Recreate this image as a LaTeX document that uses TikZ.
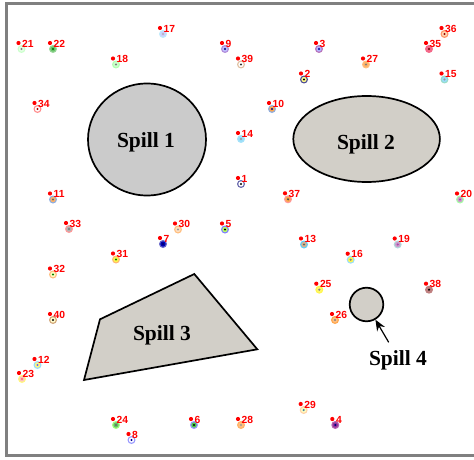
\documentclass[tikz,border=0pt]{standalone}
\usepackage{fontspec}
\setmainfont{Liberation Serif}
\newfontfamily\numfont{Liberation Sans}
\usetikzlibrary{arrows.meta, positioning, shapes.geometric}
\definecolor{spillgrey}{HTML}{CBCBCB}
\definecolor{spillsand}{HTML}{D2CFC8}
\tikzset{
  spill/.style={draw=black, line width=1.7pt, fill=spillsand, inner sep=0pt},
  spilltext/.style={inner sep=0pt, font=\fontsize{21.5}{25}\selectfont\bfseries},
  dot/.style={circle, fill=red, inner sep=0pt, minimum size=4.2pt},
  numtext/.style={text=red, inner sep=0pt, font=\fontsize{10.3}{12}\numfont\bfseries},
  halo/.style={circle, inner sep=0pt, minimum size=8pt},
  ring/.style={circle, inner sep=0pt, minimum size=5.4pt},
  core/.style={circle, inner sep=0pt, minimum size=2.4pt}
}

\begin{document}
\begin{tikzpicture}[x=1pt,y=-1pt]
  \useasboundingbox (0,0) rectangle (474,460);
  \draw [line width=3.4pt, color=black!50] (474,3.7) -- (6.3,3.7) -- (6.3,455.5) -- (474,455.5);

  \node [spill, ellipse, fill=spillgrey, minimum width=118pt, minimum height=112pt] (spill1) at (147,139.5) {};
  \node [spill, ellipse, minimum width=146.6pt, minimum height=86pt] (spill2) at (366.6,139) {};
  \node [spill, circle, minimum size=33.6pt] (spill4) at (366.5,304.5) {};

  \node [spilltext] (text1) at (146,142.5) {Spill 1};
  \node [spilltext] (text2) at (366,144) {Spill 2};

  \coordinate (corner1) at (194.3,274);
  \coordinate (corner2) at (257.3,349.3);
  \coordinate (corner3) at (84,380);
  \coordinate (corner4) at (100,319.3);
  \draw [spill, line join=miter] (corner1) -- (corner2) -- (corner3) -- (corner4) -- cycle;
  \node [spilltext] (text3) at (162,335.5) {Spill 3};

  \node [spilltext] (text4) at (398,360.5) {Spill 4};
  \coordinate (tail4) at (388.7,342.3);
  \draw [-{Stealth[length=11pt,width=9pt]}, line width=1.2pt] (tail4) -- (spill4);

  \foreach \id/\x/\y/\a/\b/\c in {
    1/238/178/blue!45!black!60/white/black,
    2/301/73.5/blue!40!black!70/yellow!45/black,
    3/316/43/violet!55/blue!30/blue!60!black,
    4/332.3/419/violet!60/violet!80/blue!50!black,
    5/222/223.5/blue!50/green!45!yellow!60/black,
    6/191/419/blue!40/green!70!black!70/black,
    7/160/238/blue!65!black!60/blue!70!black/blue!40!black,
    8/128.5/434/blue!40/white/blue!60!black,
    9/222/43/blue!35!violet!45/blue!25/blue!50!black,
    10/269/103/cyan!50!blue!45/orange!70/blue!50!black,
    11/50/193.5/cyan!50!blue!45/orange!60/black!60,
    12/34.5/359/cyan!40/yellow!50/blue!60,
    13/301/238.5/cyan!60/brown!60/black!60,
    14/238/133/cyan!35/cyan!40/black!40,
    15/441.5/73.5/cyan!45!green!40/cyan!40/black!40,
    16/347.7/253.7/cyan!40/yellow!70/black!50,
    17/160/28/cyan!25/blue!20/black!30,
    18/113/58.5/green!30/green!20/black!50,
    19/394.7/238.5/teal!30/violet!40/violet!70,
    20/457/193.5/green!35/violet!40/violet!70,
    21/18.5/43/green!20/green!10/black!50,
    22/50/43/green!60!black!40/green!60!black!60/green!40!black,
    23/19/373/yellow!50/pink/red!60,
    24/113/419/green!70!yellow!50/green!60!black!60/black!60,
    25/316.3/283.7/yellow!70/yellow!60/black!50,
    26/332/314/orange!70/orange!50/black!50,
    27/363/58.5/orange!50/orange!60/black!50,
    28/238/419/orange!60/orange!50/black!40,
    29/300.7/404/orange!35/yellow!25/cyan!60!black,
    30/175/223.5/orange!50/orange!25/black!40,
    31/113/253.5/orange!55/yellow!70/green!50!black,
    32/50/268.5/orange!50/yellow!25/green!50!black,
    33/66/223/red!40/black!30/black!55,
    34/34.5/103/red!45/white/red!70!black,
    35/426/43/magenta!50!red!60/magenta!50!red!60/red!40!black,
    36/441.5/28/orange!60!red!60/orange!30/red!60!black,
    37/285/193.3/red!40/orange!70/black!70,
    38/426/283.7/red!50!black!50/red!50!black!50/black,
    39/238/58.5/brown!50/white/black!80,
    40/50/314/brown!70/yellow!20/black}{
    \node [halo, fill=\a] (halo\id) at (\x+3,\y+6) {};
    \node [ring, fill=\b] (ring\id) at (halo\id) {};
    \node [core, fill=\c] (core\id) at (halo\id) {};
    \node [dot] (dot\id) at (\x,\y) {};
    \node [numtext, right=1.2pt of dot\id, yshift=-0.5pt] (num\id) {\id};
  };
\end{tikzpicture}
\end{document}
